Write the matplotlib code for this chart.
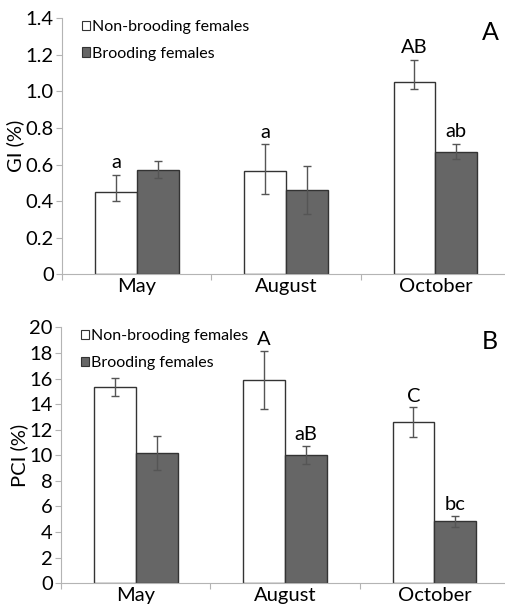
import numpy as np
import matplotlib.pyplot as plt
from matplotlib.patches import Patch

# DATA
months = ['May', 'August', 'October']
gi_non = [0.45, 0.566, 1.053]
gi_non_up = [0.095, 0.144, 0.121]
gi_non_lo = [0.048, 0.128, 0.042]
gi_brd = [0.569, 0.458, 0.670]
gi_brd_up = [0.050, 0.132, 0.044]
gi_brd_lo = [0.045, 0.128, 0.042]
gi_lab_non = ['a', 'a', 'AB']
gi_lab_brd = ['', '', 'ab']

pci_non = [15.36, 15.89, 12.60]
pci_non_err = [0.70, 2.27, 1.15]
pci_brd = [10.18, 10.03, 4.84]
pci_brd_err = [1.32, 0.70, 0.42]
pci_lab_non = ['', 'A', 'C']
pci_lab_brd = ['', 'aB', 'bc']

plt.rcParams['font.family'] = ['Lato', 'DejaVu Sans']
fs = 14.5
axcol = '#b4b4b4'
dark = '#666666'
w = 0.28

fig = plt.figure(figsize=(5.05, 6.12), dpi=100)
axA = fig.add_axes([0.123, 0.552, 0.887, 0.418])
axB = fig.add_axes([0.121, 0.047, 0.887, 0.418])

def panel(ax, non, non_err, brd, brd_err, lab_non, lab_brd, ymax, step, fmt, lab_off, ylabel, letter):
    x = np.arange(len(months)) + 0.5
    ekw = dict(ecolor='#555555', elinewidth=1, capsize=3, capthick=1)
    ax.bar(x - w / 2, non, w, color='white', edgecolor='#333333', linewidth=1,
           yerr=non_err, error_kw=ekw, zorder=2)
    ax.bar(x + w / 2, brd, w, color=dark, edgecolor='#333333', linewidth=1,
           yerr=brd_err, error_kw=ekw, zorder=2)
    up_non = np.array(non_err)[-1] if np.ndim(non_err) == 2 else np.array(non_err)
    up_brd = np.array(brd_err)[-1] if np.ndim(brd_err) == 2 else np.array(brd_err)
    for i in range(len(months)):
        if lab_non[i]:
            ax.text(x[i] - w / 2, non[i] + up_non[i] + lab_off, lab_non[i], ha='center', va='bottom', fontsize=fs)
        if lab_brd[i]:
            ax.text(x[i] + w / 2, brd[i] + up_brd[i] + lab_off, lab_brd[i], ha='center', va='bottom', fontsize=fs)
    ax.set_xlim(0, 3)
    ax.set_ylim(0, ymax)
    ticks = np.arange(0, ymax + step / 2, step)
    ax.set_yticks(ticks)
    ax.set_yticklabels([fmt(t) for t in ticks], fontsize=fs)
    ax.set_xticks([0, 1, 2, 3])
    ax.set_xticklabels([])
    ax.set_xticks(x, minor=True)
    ax.set_xticklabels(months, minor=True, fontsize=fs)
    ax.tick_params(axis='x', which='minor', length=0, pad=3)
    ax.tick_params(axis='x', which='major', length=4, color=axcol)
    ax.tick_params(axis='y', length=4, color=axcol, pad=2)
    for s in ['top', 'right']:
        ax.spines[s].set_visible(False)
    for s in ['left', 'bottom']:
        ax.spines[s].set_color(axcol)
    ax.set_ylabel(ylabel, fontsize=fs, labelpad=1)
    ax.text(0.975, 0.99, letter, transform=ax.transAxes, ha='right', va='top', fontsize=18)
    handles = [Patch(facecolor='white', edgecolor='#333333', linewidth=0.8),
               Patch(facecolor=dark, edgecolor='#333333', linewidth=0.8)]
    ax.legend(handles, ['Non-brooding females', 'Brooding females'], loc='upper left',
              bbox_to_anchor=(0.012, 1.05), frameon=False, fontsize=11.5,
              handlelength=0.5, handleheight=0.5, handletextpad=0.12, labelspacing=0.8)

panel(axA, gi_non, [gi_non_lo, gi_non_up], gi_brd, [gi_brd_lo, gi_brd_up],
      gi_lab_non, gi_lab_brd, 1.4, 0.2,
      lambda t: '0' if t == 0 else f'{t:.1f}', 0.02, 'GI (%)', 'A')
panel(axB, pci_non, pci_non_err, pci_brd, pci_brd_err,
      pci_lab_non, pci_lab_brd, 20, 2,
      lambda t: f'{int(round(t))}', 0.2, 'PCI (%)', 'B')

fig.savefig('out.png', dpi=100)
